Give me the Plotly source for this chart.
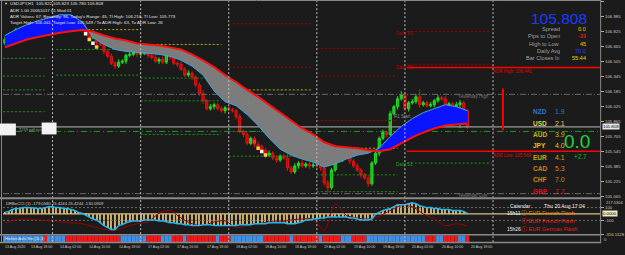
import plotly.graph_objects as go
import numpy as np

W, H = 625, 255
BG = "#1b1b1b"
FONT = "Liberation Sans"

# ---------------- data ----------------
bar_t = list(range(11, 138))          # hourly bar index (13 Aug 00:00 = 0, weekend skipped)
closes = [106.739, 106.791, 106.760, 106.844, 106.823, 106.865, 106.844, 106.886, 106.865, 106.907,
          106.886, 106.928, 106.897, 106.928, 106.907, 106.949, 106.918, 106.928, 106.897, 106.907,
          106.876, 106.865, 106.812, 106.760, 106.781, 106.707, 106.686, 106.612, 106.560, 106.486,
          106.455, 106.497, 106.507, 106.570, 106.581, 106.602, 106.581, 106.591, 106.602, 106.570,
          106.549, 106.507, 106.528, 106.497, 106.581, 106.549, 106.486, 106.476, 106.423, 106.360,
          106.381, 106.339, 106.254, 106.160, 106.086, 106.002, 106.023, 106.044, 106.002, 105.981,
          106.012, 105.991, 105.981, 105.918, 105.760, 105.728, 105.633, 105.686, 105.622, 105.601,
          105.560, 105.507, 105.528, 105.476, 105.455, 105.496, 105.476, 105.371, 105.328, 105.392,
          105.423, 105.392, 105.413, 105.392, 105.402, 105.392, 105.371, 105.213, 105.160, 105.349,
          105.476, 105.455, 105.496, 105.528, 105.444, 105.392, 105.349, 105.297, 105.265, 105.202,
          105.423, 105.528, 105.686, 105.749, 105.728, 105.949, 106.023, 106.107, 106.149, 106.002,
          106.065, 106.076, 106.128, 106.044, 106.065, 106.034, 106.044, 106.086, 106.118, 106.107,
          106.023, 106.055, 106.002, 106.044, 106.065, 105.981, 105.808]
first_open = 106.700
hi_wick = [0.03, 0.02, 0.04, 0.02, 0.03, 0.02, 0.03, 0.02, 0.02, 0.03,
           0.02, 0.03, 0.02, 0.02, 0.03, 0.02, 0.02, 0.03, 0.02, 0.02,
           0.02, 0.03, 0.04, 0.02, 0.03, 0.02, 0.03, 0.02, 0.02, 0.03,
           0.02, 0.03, 0.02, 0.02, 0.03, 0.02, 0.02, 0.03, 0.02, 0.02,
           0.02, 0.03, 0.02, 0.03, 0.02, 0.03, 0.02, 0.02, 0.03, 0.02,
           0.03, 0.02, 0.02, 0.03, 0.04, 0.02, 0.03, 0.02, 0.02, 0.03,
           0.02, 0.03, 0.02, 0.02, 0.03, 0.02, 0.03, 0.02, 0.02, 0.03,
           0.02, 0.02, 0.03, 0.02, 0.03, 0.02, 0.02, 0.04, 0.02, 0.03,
           0.02, 0.03, 0.02, 0.02, 0.03, 0.02, 0.03, 0.02, 0.03, 0.02,
           0.03, 0.02, 0.02, 0.03, 0.02, 0.02, 0.03, 0.02, 0.02, 0.03,
           0.02, 0.03, 0.02, 0.03, 0.02, 0.03, 0.02, 0.03, 0.04, 0.03,
           0.02, 0.03, 0.03, 0.08, 0.02, 0.02, 0.03, 0.02, 0.03, 0.02,
           0.03, 0.02, 0.02, 0.03, 0.03, 0.02, 0.02]
lo_wick = [0.02, 0.03, 0.02, 0.03, 0.02, 0.02, 0.03, 0.02, 0.02, 0.02,
           0.03, 0.02, 0.02, 0.03, 0.02, 0.02, 0.03, 0.02, 0.03, 0.02,
           0.02, 0.02, 0.03, 0.02, 0.02, 0.03, 0.02, 0.03, 0.02, 0.02,
           0.03, 0.02, 0.02, 0.03, 0.02, 0.02, 0.03, 0.02, 0.02, 0.03,
           0.02, 0.02, 0.03, 0.02, 0.02, 0.03, 0.02, 0.03, 0.02, 0.02,
           0.02, 0.03, 0.02, 0.02, 0.03, 0.02, 0.02, 0.03, 0.02, 0.02,
           0.03, 0.02, 0.02, 0.03, 0.02, 0.03, 0.02, 0.02, 0.03, 0.02,
           0.02, 0.03, 0.02, 0.02, 0.03, 0.02, 0.02, 0.03, 0.02, 0.02,
           0.03, 0.02, 0.02, 0.03, 0.02, 0.02, 0.03, 0.03, 0.05, 0.02,
           0.02, 0.03, 0.02, 0.02, 0.03, 0.02, 0.02, 0.03, 0.02, 0.03,
           0.02, 0.02, 0.03, 0.02, 0.03, 0.02, 0.02, 0.03, 0.02, 0.02,
           0.03, 0.02, 0.02, 0.03, 0.02, 0.02, 0.02, 0.03, 0.02, 0.02,
           0.03, 0.02, 0.02, 0.03, 0.25, 0.02, 0.02]

cloud_t = list(range(11, 138, 3))
red_line = [106.655, 106.697, 106.739, 106.765, 106.791, 106.812, 106.828, 106.839, 106.823, 106.781,
            106.749, 106.728, 106.697, 106.686, 106.676, 106.655, 106.633, 106.581, 106.518, 106.444,
            106.360, 106.286, 106.202, 106.128, 106.044, 105.960, 105.876, 105.791, 105.728, 105.644,
            105.602, 105.591, 105.581, 105.560, 105.549, 105.570, 105.633, 105.697, 105.749, 105.791,
            105.823, 105.833, 105.844]
cyan_line = [106.781, 106.844, 106.897, 106.939, 106.970, 107.002, 107.002, 106.928, 106.760, 106.686,
             106.633, 106.612, 106.602, 106.591, 106.581, 106.560, 106.518, 106.455, 106.360, 106.191,
             106.076, 106.034, 105.939, 105.823, 105.686, 105.570, 105.507, 105.465, 105.433, 105.381,
             105.413, 105.465, 105.507, 105.528, 105.581, 105.707, 105.812, 105.897, 105.960, 106.002,
             106.044, 106.023, 105.981]

# small signal blocks drawn on the price panel
sig_t = [33, 34, 35, 36, 79, 80, 81, 82]
sig_price = [106.800, 106.740, 106.700, 106.660, 105.650, 105.580, 105.545, 105.510]
sig_color = ["#f4f4f4", "#ffcc40", "#f4f4f4", "#ffcc40", "#ff3030", "#ffcc40", "#f4f4f4", "#ffcc40"]

cci_main = [25, 40, 70, 84, 84, 99, 99, 99, 92, 84,
            84, 99, 114, 114, 99, 99, 84, 84, 70, 55,
            25, 10, -19, -49, -79, -93, -138, -182, -212, -241,
            -241, -182, -167, -138, -123, -108, -108, -108, -93, -93,
            -93, -93, -108, -108, -123, -138, -138, -153, -153, -167,
            -167, -182, -182, -182, -167, -167, -167, -182, -182, -182,
            -182, -182, -182, -182, -167, -167, -167, -167, -153, -153,
            -153, -153, -138, -138, -138, -138, -138, -153, -153, -153,
            -138, -123, -93, -93, -79, -79, -64, -64, -49, -49,
            -49, -49, -49, -49, -64, -64, -79, -93, -93, -93,
            -79, -4, 25, 55, 70, 84, 114, 144, 144, 144,
            159, 173, 159, 129, 114, 99, 99, 84, 84, 70,
            70, 70, 55, 55, 55, 40, 10]
cci_signal = [-138, -93, -79, -93, -108, -123, -138, -153, -197, -241,
              -256, -197, -153, -123, 10, 55, -64, -153, -182, -123,
              -108, -212, -182, -153, -123, -123, -93, -79, -79, -260,
              159, -20, -64, -79, -34, 55, 129, 114, 0, -79,
              -182, -153, -182]

strip_state = [1, 1, 1, 1, 1, 1, 1, 1, 1, 1, 1, 0, 1, 1, 1, 1, 1,
               0, 0, 0, 0, 0, 0, 0, 0, 0, 0, 0, 0, 0, 0, 0,
               1, 1, 1, 1, 1, 1, 1, 0, 0, 0, 0, 1, 1, 1, 0, 0, 0, 1,
               0, 0, 0, 0, 0, 0, 0, 0, 1, 0, 0, 0,
               1, 1, 1, 1, 1, 1, 1, 1, 1, 0, 0, 0, 0, 0, 0, 0, 1,
               0, 0, 0, 0, 0, 0, 0, 1, 0, 0, 0, 0, 0, 1, 1, 1, 0, 0, 0, 0,
               1, 1, 1, 1, 1, 1, 1, 1, 1, 1, 1, 1, 1, 1, 1, 1,
               0, 0, 0, 1, 1, 0, 0, 0, 0, 1, 1, 0]

# daily pivot levels: start bar, end bar, price, kind
lvl_t0 = [10.5, 10.5, 10.5, 10.5, 25, 25, 25, 48, 48, 48, 48,
          72, 72, 72, 72, 72, 96, 96, 96, 96, 96, 96, 120.5, 120.5, 120.5]
lvl_t1 = [21.8, 21.8, 21.8, 21.8, 47.5, 47.5, 47.5, 70, 70, 70, 70,
          94.5, 94.5, 94.5, 94.5, 94.5, 118, 118, 118, 118, 118, 118, 143.7, 143.7, 143.7]
lvl_price = [106.538, 106.349, 106.202, 105.970, 106.844, 106.633, 106.360,
             106.686, 106.328, 106.086, 105.728,
             106.907, 106.444, 106.202, 105.760, 105.496,
             106.644, 106.349, 105.876, 105.581, 105.297, 105.118,
             106.823, 106.476, 105.423]
lvl_kind = ["S", "S", "S", "S", "P", "S", "S", "P", "S", "S", "S",
            "R", "R", "P", "S", "S", "R", "R", "R", "P", "S", "S", "R", "R", "S"]

yesterday_high = 106.155
yesterday_low = 105.097
day_open = 105.760
last_price = 105.808
adr_high = 106.441
adr_low = 105.549
today_high = 106.216
today_low = 105.773
today_bar_t = 146.7
day_starts = [24, 48, 72, 96, 120, 144]

tick_t = [11, 18, 26, 34, 42, 50, 58, 66, 74, 82, 90, 98, 106, 114, 122, 130, 138]
tick_text = ["13 Aug 2020", "13 Aug 18:00", "14 Aug 02:00", "14 Aug 10:00", "14 Aug 18:00",
             "17 Aug 02:00", "17 Aug 10:00", "17 Aug 18:00", "18 Aug 02:00", "18 Aug 10:00",
             "18 Aug 18:00", "19 Aug 02:00", "19 Aug 10:00", "19 Aug 18:00", "20 Aug 02:00",
             "20 Aug 10:00", "20 Aug 18:00"]
price_ticks = [105.065, 105.225, 105.385, 105.545, 105.705, 105.865, 106.025, 106.185,
               106.345, 106.505, 106.665, 106.825, 106.985, 107.145]
cci_ticks = [100, -100, -316.1128]
cci_top = 217.5304

currencies = ["NZD", "USD", "AUD", "JPY", "EUR", "CAD", "CHF", "GBP"]
strengths = ["1.9", "2.1", "3.9", "4.0", "4.1", "5.3", "7.0", "7.7"]
cur_colors = ["#2f74d0", "#e0d050", "#c8b818", "#e0c810", "#c0ac10", "#d88010", "#d08a10", "#e01010"]

info_labels = ["Spread", "Pips to Open", "High to Low", "Daily Avg", "Bar Closes In"]
info_values = ["0.0", "-39", "45", "70.0", "55:44"]
info_colors = ["#e8d000", "#ff2020", "#e8d000", "#2040ff", "#e8d000"]

# ---------------- helpers ----------------
X0_PX, X1_PX = 3, 605
PX_PER_BAR, PX_OFF = 3.7, -35.8
xr = [(X0_PX - PX_OFF) / PX_PER_BAR, (X1_PX - PX_OFF) / PX_PER_BAR]


def PX(x):
    return x / W


def PY(y):
    return 1 - y / H


def price_at(ypx):
    return 107.1597 - 0.010526 * ypx


fig = go.Figure()

opens = [first_open] + closes[:-1]
highs = [max(o, c) + w for o, c, w in zip(opens, closes, hi_wick)]
lows = [min(o, c) - w for o, c, w in zip(opens, closes, lo_wick)]


def hline(price, color, dash, width=1, t0=xr[0], t1=xr[1]):
    fig.add_trace(go.Scatter(x=[t0, t1], y=[price, price], mode="lines",
                             line=dict(color=color, dash=dash, width=width),
                             hoverinfo="skip", showlegend=False))


kind_col = {"R": "#a80000", "P": "#b0b000", "S": "#119a11"}
for a, b, p, k in zip(lvl_t0, lvl_t1, lvl_price, lvl_kind):
    hline(p, kind_col[k], "2px,2px", 1, a, b)

hline(yesterday_high, "#6a6a6a", "6px,2px,1px,2px")
hline(yesterday_low, "#6a6a6a", "6px,2px,1px,2px")
hline(day_open, "#1f9a1f", "6px,3px,1px,3px")
hline(last_price, "#9a9a9a", "solid", 1.2)
hline(adr_high, "#ff0000", "solid", 1.5, 120.5, xr[1])
hline(adr_low, "#ff0000", "solid", 1.5, 120.5, xr[1])

# cloud fill, split where the two lines cross
ct = np.array(cloud_t, float)
r = np.array(red_line)
c = np.array(cyan_line)
d = c - r
segs = []
cx, cr, cc = [ct[0]], [r[0]], [c[0]]
for i in range(1, len(ct)):
    if d[i] * d[i - 1] < 0:
        f = d[i - 1] / (d[i - 1] - d[i])
        xc = ct[i - 1] + f * (ct[i] - ct[i - 1])
        yc = r[i - 1] + f * (r[i] - r[i - 1])
        cx.append(xc); cr.append(yc); cc.append(yc)
        segs.append((cx, cr, cc, d[i - 1] > 0))
        cx, cr, cc = [xc], [yc], [yc]
    cx.append(ct[i]); cr.append(r[i]); cc.append(c[i])
segs.append((cx, cr, cc, d[-1] > 0))
for sx, sr, sc, bull in segs:
    fig.add_trace(go.Scatter(x=list(sx) + list(sx)[::-1], y=list(sr) + list(sc)[::-1],
                             fill="toself", fillcolor="#0a14ff" if bull else "#7c7c7c",
                             mode="lines", line=dict(width=0), hoverinfo="skip", showlegend=False))
fig.add_trace(go.Scatter(x=cloud_t, y=cyan_line, mode="lines",
                         line=dict(color="#38a8e0", width=1), hoverinfo="skip", showlegend=False))
fig.add_trace(go.Scatter(x=cloud_t, y=red_line, mode="lines",
                         line=dict(color="#ff1010", width=2), hoverinfo="skip", showlegend=False))

# candles
fig.add_trace(go.Candlestick(x=bar_t, open=opens, high=highs, low=lows, close=closes,
                             increasing=dict(line=dict(color="#22e022", width=1), fillcolor="#18b818"),
                             decreasing=dict(line=dict(color="#e01414", width=1), fillcolor="#c80000"),
                             whiskerwidth=0, showlegend=False, hoverinfo="skip"))

# signal blocks
fig.add_trace(go.Scatter(x=sig_t, y=sig_price, mode="markers",
                         marker=dict(symbol="square", size=3.5, color=sig_color, line=dict(width=0)),
                         hoverinfo="skip", showlegend=False))

# today's range bar
fig.add_trace(go.Scatter(x=[today_bar_t, today_bar_t], y=[today_low, today_high], mode="lines",
                         line=dict(color="#ff0000", width=2), hoverinfo="skip", showlegend=False))

# CCI panel
fig.add_trace(go.Scatter(x=[xr[0], xr[1]], y=[0, 0], yaxis="y2", mode="lines",
                         line=dict(color="#d8c080", width=1.2), hoverinfo="skip", showlegend=False))
for lv in (100, -100):
    fig.add_trace(go.Scatter(x=[xr[0], xr[1]], y=[lv, lv], yaxis="y2", mode="lines",
                             line=dict(color="#6a6a6a", width=1, dash="2px,2px"),
                             hoverinfo="skip", showlegend=False))
fig.add_trace(go.Bar(x=bar_t, y=cci_main, yaxis="y2", width=0.3,
                     marker=dict(color="#c8b070", line=dict(width=0)),
                     hoverinfo="skip", showlegend=False))
fig.add_trace(go.Scatter(x=cloud_t, y=cci_signal, yaxis="y2", mode="lines", line_shape="spline",
                         line=dict(color="#a00000", width=1, smoothing=0.8),
                         hoverinfo="skip", showlegend=False))
fig.add_trace(go.Scatter(x=bar_t, y=cci_main, yaxis="y2", mode="lines",
                         line=dict(color="#22b8f0", width=1.5), hoverinfo="skip", showlegend=False))

# colour strip
fig.add_trace(go.Bar(x=bar_t, y=[1] * len(bar_t), yaxis="y3", width=1.0,
                     marker=dict(color=["#3d8fe8" if s else "#f01818" for s in strip_state],
                                 line=dict(width=0)),
                     hoverinfo="skip", showlegend=False))

# ---------------- layout ----------------
shapes = []
for t in day_starts:
    shapes.append(dict(type="line", xref="x", yref="paper", x0=t, x1=t, y0=PY(245), y1=PY(1),
                       line=dict(color="#bdbdbd", width=1, dash="2px,2px")))
for yy, wd in ((200.5, 2), (237.5, 1.5), (245.5, 1.5), (0.5, 1)):
    shapes.append(dict(type="line", xref="paper", yref="paper", x0=0, x1=PX(606), y0=PY(yy), y1=PY(yy),
                       line=dict(color="#8a8a8a", width=wd)))
for xx in (1.5, 605.5):
    shapes.append(dict(type="line", xref="paper", yref="paper", x0=PX(xx), x1=PX(xx), y0=PY(246), y1=1,
                       line=dict(color="#8a8a8a", width=1)))
shapes.append(dict(type="rect", xref="paper", yref="paper", x0=PX(0), x1=PX(16), y0=PY(137), y1=PY(125),
                   fillcolor="#f2f2f2", line=dict(width=0)))
shapes.append(dict(type="rect", xref="paper", yref="paper", x0=PX(42), x1=PX(57), y0=PY(136), y1=PY(124),
                   fillcolor="#f2f2f2", line=dict(width=0)))

ann = []


def txt(x, y, s, size, color, xanchor="left", bg=None, h=None):
    d_ = dict(x=PX(x), y=PY(y), xref="paper", yref="paper", text=s, showarrow=False,
              xanchor=xanchor, yanchor="middle",
              font=dict(family=FONT, size=size, color=color))
    if bg:
        d_["bgcolor"] = bg
        d_["borderpad"] = 0
    if h:
        d_["height"] = h
    ann.append(d_)


for t, s in zip(tick_t, tick_text):
    ann.append(dict(x=t, y=PY(249.5), xref="x", yref="paper", text=s, showarrow=False,
                    xanchor="left", yanchor="middle", xshift=-2,
                    font=dict(family=FONT, size=3.6, color="#c8c8c8")))

txt(2, 4, "▼", 4, "#c8c8c8")
txt(8, 4, "USDJPY,H1  105.822 105.823 105.780 105.808", 4.4, "#e0e0e0")
txt(8, 10.5, "ADR 1.00 20051017 01 Mod 01", 4.4, "#e0e0e0")
txt(8, 16.5, "ADR Values: 67, Reachdy: 96, Today's Range: 45, TI High: 106.216, TI Low: 105.773", 4.4, "#e0e0e0")
txt(8, 22.5, "Target High: 106.441, Target Low: 105.549 / To ADR High: 63, To ADR Low: 26", 4.4, "#e0e0e0")

txt(17, 131, "7219 pdf pcs", 4, "#9a9a9a")
txt(397, 34, "Daily R2", 4.5, "#b00000")
txt(397, 68, "Daily R1", 4.5, "#c80000")
txt(397, 166, "Daily S1", 4.5, "#20a020")
txt(395, 118, "R1 Start", 4.5, "#8a8a8a")
txt(495, 72, "ADR High: 106.441", 4.5, "#e00000")
txt(495, 157, "ADR Low: 105.549", 4.5, "#e00000")
txt(460, 98, "Yesterday High", 4.5, "#7a7a7a")
txt(460, 197.5, "Yesterday Low", 4.5, "#7a7a7a")

txt(594, 18.5, "105.808", 15.5, "#1a3cff", "right", h=13)
for i, (lab, val, col) in enumerate(zip(info_labels, info_values, info_colors)):
    yy = 29.5 + i * 7.3
    txt(567, yy, lab, 5.6, "#a0a0a0", "right", h=6)
    txt(593, yy, val, 5.6, col, "right", h=6)

for i, (cc_, sv, col) in enumerate(zip(currencies, strengths, cur_colors)):
    yy = 113 + i * 11.5
    ann.append(dict(x=PX(535), y=PY(yy), xref="paper", yref="paper", text="<b>%s</b>" % cc_,
                    showarrow=False, xanchor="left", yanchor="middle",
                    font=dict(family=FONT, size=6.5, color=col)))
    ann.append(dict(x=PX(557), y=PY(yy), xref="paper", yref="paper", text=sv,
                    showarrow=False, xanchor="left", yanchor="middle",
                    font=dict(family=FONT, size=7, color=col)))
txt(582, 143, "0.0", 19, "#22d040", "center")
txt(577, 158, "+2.7", 6.4, "#22b040")

txt(4, 206, "DRBoCCI (1) -179.0580 25.4244 25.4244 -130.0909", 4.2, "#d0d0d0")
txt(3, 241.5, "Heiken Ashi Sm (11,1)", 4, "#e8e8e8")

txt(512, 208, "Calendar", 5, "#f0f0f0")
txt(592, 208, "Thu 20 Aug 17:04", 5.2, "#f0f0f0", "right")
txt(509, 216, "15h11", 5, "#f0f0f0")
txt(523, 216, "ⓘ EUR French Flash", 5.6, "#e88000")
txt(523, 224, "ⓘ EUR French Flash", 5.6, "#f01818")
txt(509, 232, "15h26", 5, "#f0f0f0")
txt(523, 232, "ⓘ EUR German Flash", 5.6, "#f01818")

txt(606.5, 128.5, "105.808", 4.3, "#000000", "left", bg="#e8e8e8")
txt(606.5, 216.5, "0.0000", 4.3, "#000000", "left", bg="#f0e8c0")
txt(609, 204.3, "%.4f" % cci_top, 4.0, "#c8c8c8", h=4)
txt(607, 242, "0", 4.3, "#c8c8c8")

fig.update_layout(
    width=W, height=H, margin=dict(l=0, r=0, t=0, b=0),
    paper_bgcolor=BG, plot_bgcolor=BG, showlegend=False, barmode="overlay", boxgap=0.15,
    xaxis=dict(domain=[PX(X0_PX), PX(X1_PX)], range=xr, visible=False,
               rangeslider=dict(visible=False), fixedrange=True),
    yaxis=dict(domain=[PY(200), PY(1)], range=[price_at(200), price_at(1)], side="right",
               tickvals=price_ticks, ticktext=["%.3f" % v for v in price_ticks],
               ticks="outside", ticklen=3, tickcolor="#b0b0b0",
               tickfont=dict(family=FONT, size=4.3, color="#c8c8c8"),
               showgrid=False, zeroline=False, showline=False),
    yaxis2=dict(domain=[PY(237), PY(202.4)], range=[-316.1128, cci_top], side="right", anchor="x",
                tickvals=cci_ticks, ticktext=["100", "-100", "-316.1128"],
                ticks="outside", ticklen=3, tickcolor="#b0b0b0",
                tickfont=dict(family=FONT, size=4.3, color="#c8c8c8"),
                showgrid=False, zeroline=False, showline=False),
    yaxis3=dict(domain=[PY(245), PY(238)], range=[0, 1], anchor="x", visible=False),
    shapes=shapes, annotations=ann,
)

fig.write_html("out.html")
